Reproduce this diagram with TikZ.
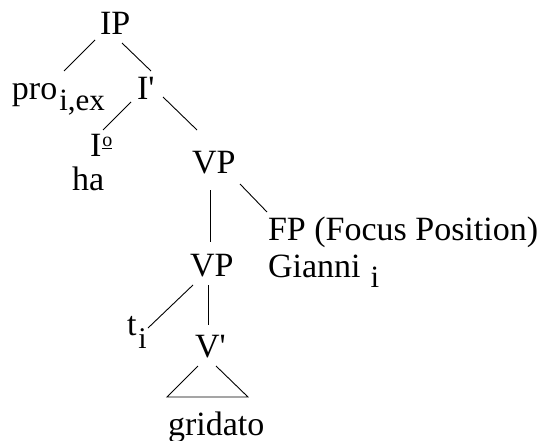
\documentclass[tikz,border=0pt]{standalone}
\usepackage{fontspec}
\setmainfont{Liberation Serif}
\begin{document}
\begin{tikzpicture}[x=1pt,y=-1pt,
  lbl/.style={inner sep=0pt,outer sep=0pt,anchor=base west,font=\fontsize{34}{40}\selectfont},
  edge/.style={line width=0.9pt}]
\useasboundingbox (0,0) rectangle (551,441);
\newcommand{\subtxt}[1]{\raisebox{-10pt}{\fontsize{31}{32}\selectfont #1}}
\node[lbl] (IP) at (100,35) {IP};
\node[lbl] (pro) at (12,100) {pro\hspace{2pt}\subtxt{i,ex}};
\node[lbl] (Ib) at (137,100) {I\textquotesingle};
\node[lbl] (I0) at (90,157) {I\hspace{1pt}\raisebox{10pt}{\fontsize{20}{20}\selectfont\underline{o}}};
\node[lbl] (ha) at (72,190) {ha};
\node[lbl] (VPa) at (192,173) {VP};
\node[lbl] (FP) at (268,240) {FP (Focus Position)};
\node[lbl] (Gi) at (268,277) {Gianni\hspace{10pt}\subtxt{i}};
\node[lbl] (VPb) at (190,276) {VP};
\node[lbl] (t) at (127,335) {t\hspace{2pt}\raisebox{-13pt}{\fontsize{30}{30}\selectfont i}};
\node[lbl] (Vb) at (195,357) {V\textquotesingle};
\node[lbl] (gr) at (168,435) {gridato};
\draw[edge] ([shift={(-5,5)}]IP.base west) -- ([shift={(52,-29)}]pro.base west);
\draw[edge] ([shift={(22,8)}]IP.base west) -- ([shift={(14,-29)}]Ib.base west);
\draw[edge] ([shift={(-6,2)}]Ib.base west) -- ([shift={(13,-27)}]I0.base west);
\draw[edge] ([shift={(26,-3)}]Ib.base west) -- ([shift={(5,-43)}]VPa.base west);
\draw[edge] ([shift={(18,17)}]VPa.base west) -- ([shift={(20,-34)}]VPb.base west);
\draw[edge] ([shift={(48,11)}]VPa.base west) -- ([shift={(-1,-28)}]FP.base west);
\draw[edge] ([shift={(3,9)}]VPb.base west) -- ([shift={(21,-7)}]t.base west);
\draw[edge] ([shift={(18,9)}]VPb.base west) -- ([shift={(13,-32)}]Vb.base west);
\draw[edge] ([shift={(3,9)}]Vb.base west) -- ([shift={(-1,-38)}]gr.base west)
  -- ([shift={(80,-38)}]gr.base west) -- ([shift={(21,9)}]Vb.base west);
\end{tikzpicture}
\end{document}
